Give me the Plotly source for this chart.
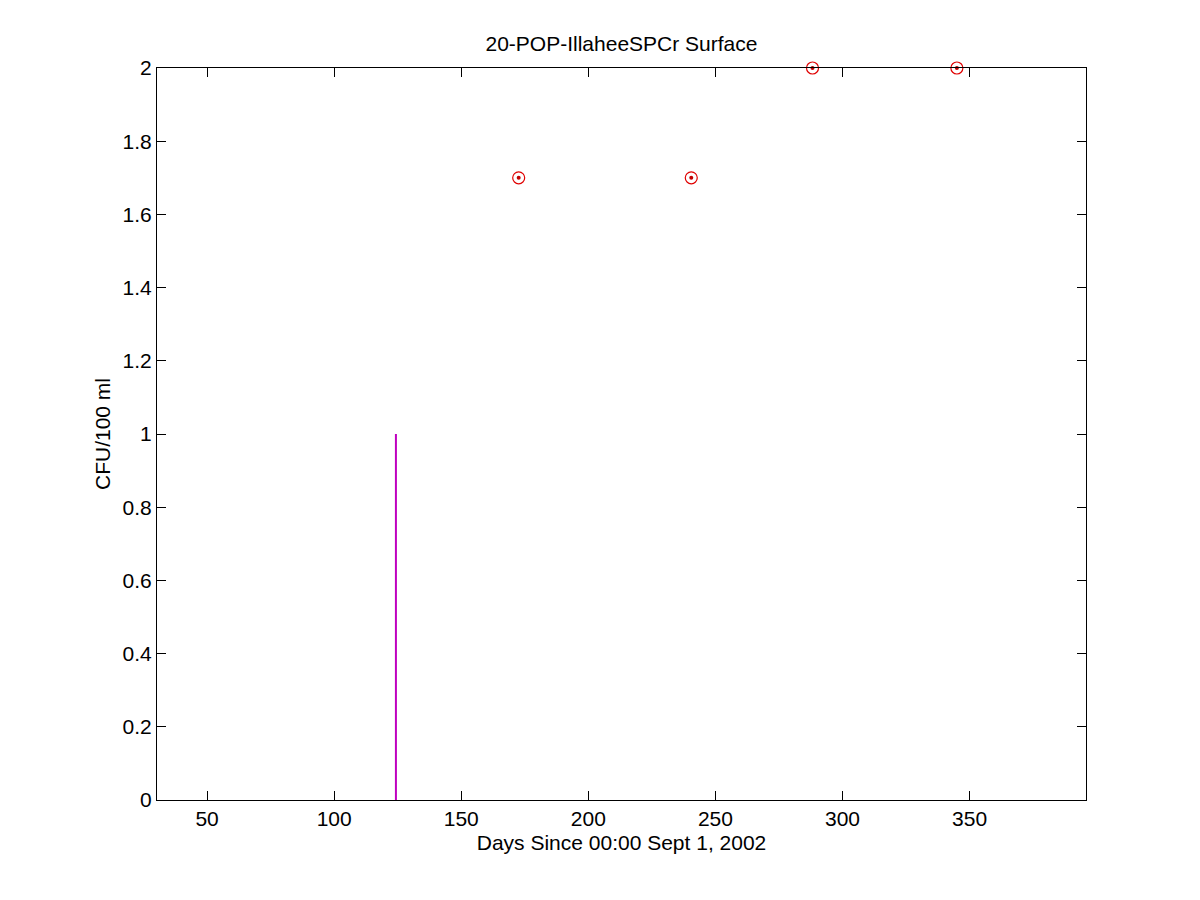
import plotly.graph_objects as go

pts_x = [172.6, 240.5, 288.2, 345.0]
pts_y = [1.7, 1.7, 2.0, 2.0]
line_x = [124.3, 124.3]
line_y = [0, 1]

x_range = [30.3, 395.8]
y_range = [0, 2]
x_ticks = [50, 100, 150, 200, 250, 300, 350]
y_ticks = [0, 0.2, 0.4, 0.6, 0.8, 1, 1.2, 1.4, 1.6, 1.8, 2]
y_ticktext = ["0", "0.2", "0.4", "0.6", "0.8", "1", "1.2", "1.4", "1.6", "1.8", "2"]

fig = go.Figure()
fig.add_trace(go.Scatter(x=line_x, y=line_y, mode="lines",
                         line=dict(color="#bf00bf", width=2), showlegend=False))
fig.add_trace(go.Scatter(x=pts_x, y=pts_y, mode="markers",
                         marker=dict(symbol="circle-open", size=12, color="#e00000",
                                     line=dict(width=1.2, color="#e00000")),
                         showlegend=False, cliponaxis=False))
fig.add_trace(go.Scatter(x=pts_x, y=pts_y, mode="markers",
                         marker=dict(symbol="circle", size=4, color="#c00000"),
                         showlegend=False, cliponaxis=False))

font = dict(family="Liberation Sans, Arial, sans-serif", size=21, color="black")
axis_common = dict(showgrid=False, zeroline=False, showline=True, linecolor="black",
                   linewidth=1, mirror="allticks", ticks="inside", ticklen=9,
                   tickcolor="black", tickfont=font)

fig.update_layout(
    width=1200, height=900,
    margin=dict(l=149, r=122, t=60, b=108),
    paper_bgcolor="white", plot_bgcolor="white",
    font=font,
    title=dict(text="20-POP-IllaheeSPCr Surface", x=(621.5 - 8) / 1200, xanchor="center",
               y=1 - 36 / 900, yanchor="middle", font=font),
    xaxis=dict(range=x_range, tickvals=x_ticks,
               title=dict(text="Days Since 00:00 Sept 1, 2002", font=font, standoff=6),
               **axis_common),
    yaxis=dict(range=y_range, tickvals=y_ticks, ticktext=y_ticktext,
               title=dict(text="CFU/100 ml", font=font, standoff=6), **axis_common),
)

fig.write_html("out.html")
